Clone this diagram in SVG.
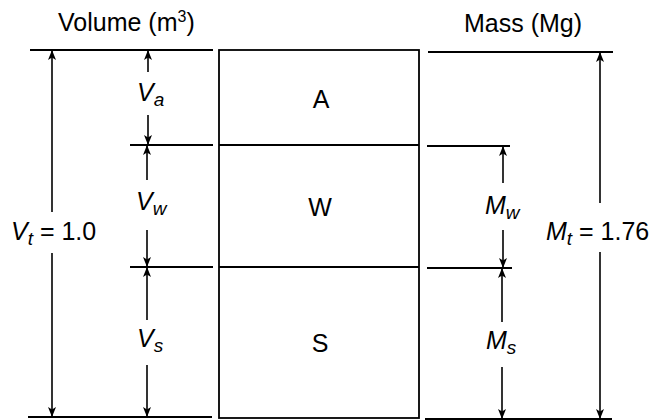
<svg xmlns="http://www.w3.org/2000/svg" width="651" height="420" viewBox="0 0 651 420">
<style>
  .ln { stroke: #000; stroke-width: 1.8; fill: none; }
  .dim { stroke: #000; stroke-width: 1.6; fill: none; marker-end: url(#ah); }
  .t { font-family: "Liberation Sans", Arial, sans-serif; font-size: 25px; fill: #000; }
  .it { font-style: italic; }
  .sub { font-size: 19px; }
</style>
<defs>
  <marker id="ah" viewBox="0 0 10 12" refX="10" refY="6" markerWidth="11" markerHeight="12" markerUnits="userSpaceOnUse" orient="auto">
    <path d="M0,2 L10,6 L0,10 L2.5,6 Z" fill="#000"/>
  </marker>
</defs>
<rect width="651" height="420" fill="#fff"/>

<g id="headers">
  <text class="t" x="58" y="31" font-size="24">Volume (m<tspan font-size="16" baseline-shift="9">3</tspan>)</text>
  <text class="t" x="464" y="32" font-size="24">Mass (Mg)</text>
</g>

<g id="phase-box">
  <rect class="ln" x="219" y="50" width="200" height="368"/>
  <line class="ln" x1="219" y1="145" x2="419" y2="145"/>
  <line class="ln" x1="219" y1="267" x2="419" y2="267"/>
</g>
<g id="air"><text class="t" x="321" y="108" text-anchor="middle" font-size="26">A</text></g>
<g id="water"><text class="t" x="320" y="216" text-anchor="middle" font-size="26">W</text></g>
<g id="solid"><text class="t" x="320" y="352" text-anchor="middle" font-size="26">S</text></g>

<g id="connectors">
  <line class="ln" x1="30" y1="50" x2="213" y2="50"/>
  <line class="ln" x1="130" y1="145" x2="213" y2="145"/>
  <line class="ln" x1="130" y1="267" x2="213" y2="267"/>
  <line class="ln" x1="28" y1="417" x2="212" y2="417"/>
  <line class="ln" x1="428" y1="52" x2="613" y2="52"/>
  <line class="ln" x1="427" y1="146" x2="510" y2="146"/>
  <line class="ln" x1="427" y1="268" x2="512" y2="268"/>
  <line class="ln" x1="425" y1="419" x2="612" y2="419"/>
  <line class="dim" x1="52" y1="212" x2="52" y2="50"/>
  <line class="dim" x1="52" y1="253" x2="52" y2="417"/>
  <line class="dim" x1="148" y1="72" x2="148" y2="50"/>
  <line class="dim" x1="148" y1="115" x2="148" y2="145"/>
  <line class="dim" x1="147" y1="180" x2="147" y2="145"/>
  <line class="dim" x1="147" y1="230" x2="147" y2="267"/>
  <line class="dim" x1="147" y1="320" x2="147" y2="267"/>
  <line class="dim" x1="147" y1="365" x2="147" y2="417"/>
  <line class="dim" x1="503" y1="183" x2="503" y2="146"/>
  <line class="dim" x1="503" y1="230" x2="503" y2="268"/>
  <line class="dim" x1="502" y1="322" x2="502" y2="268"/>
  <line class="dim" x1="502" y1="367" x2="502" y2="419"/>
  <line class="dim" x1="600" y1="203" x2="600" y2="52"/>
  <line class="dim" x1="600" y1="252" x2="600" y2="419"/>
</g>

<g id="labels">
  <text class="t" x="137" y="101" font-size="26"><tspan class="it">V</tspan><tspan class="it sub" dy="5">a</tspan></text>
  <text class="t" x="136" y="210" font-size="26"><tspan class="it">V</tspan><tspan class="it sub" dy="5">w</tspan></text>
  <text class="t" x="137" y="347" font-size="26"><tspan class="it">V</tspan><tspan class="it sub" dy="5">s</tspan></text>
  <text class="t" x="11" y="240"><tspan class="it">V</tspan><tspan class="it sub" dy="5">t</tspan><tspan dy="-5"> = 1.0</tspan></text>
  <text class="t" x="485" y="214" font-size="26"><tspan class="it">M</tspan><tspan class="it sub" dy="5">w</tspan></text>
  <text class="t" x="486" y="349" font-size="26"><tspan class="it">M</tspan><tspan class="it sub" dy="5">s</tspan></text>
  <text class="t" x="546" y="240"><tspan class="it">M</tspan><tspan class="it sub" dy="5">t</tspan><tspan dy="-5"> = 1.76</tspan></text>
</g>
</svg>
